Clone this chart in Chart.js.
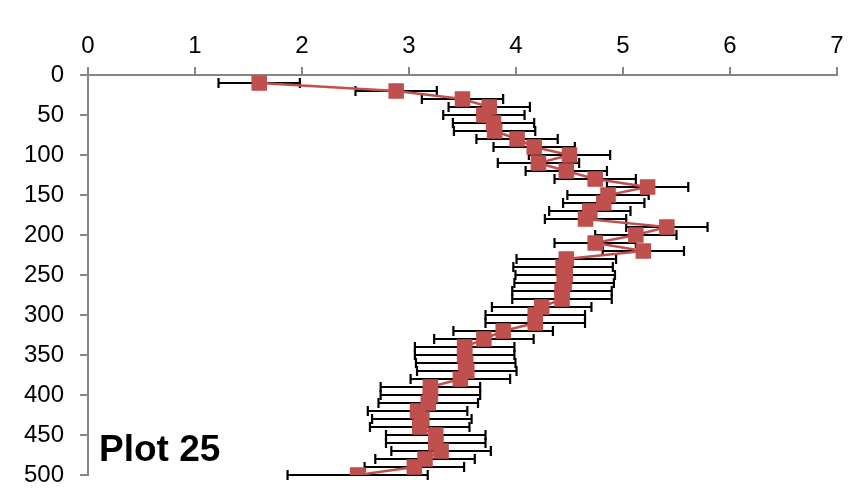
<!DOCTYPE html>
<html>
<head>
<meta charset="utf-8">
<script src="https://cdn.jsdelivr.net/npm/chart.js@4"></script>
<style>
  html, body { margin: 0; padding: 0; background: #ffffff; overflow: hidden; }
  #wrap { width: 852px; height: 488px; position: relative; }
  #plotChart { display: block; }
</style>
</head>
<body>
<div id="wrap"><canvas id="plotChart" width="852" height="488"></canvas></div>
<script>
// depth (y) and measured value (x) for each sample
const depths = [10, 20, 30, 40, 50, 60, 70, 80, 90, 100,
  110, 120, 130, 140, 150, 160, 170, 180, 190, 200,
  210, 220, 230, 240, 250, 260, 270, 280, 290, 300,
  310, 320, 330, 340, 350, 360, 370, 380, 390, 400,
  410, 420, 430, 440, 450, 460, 470, 480, 490, 500];
const values = [1.60, 2.88, 3.50, 3.75, 3.70, 3.79, 3.80, 4.01, 4.17, 4.50,
  4.21, 4.47, 4.74, 5.23, 4.86, 4.82, 4.69, 4.65, 5.41, 5.12,
  4.74, 5.19, 4.47, 4.44, 4.46, 4.45, 4.43, 4.43, 4.24, 4.18,
  4.18, 3.88, 3.70, 3.52, 3.52, 3.53, 3.54, 3.48, 3.20, 3.20,
  3.18, 3.08, 3.12, 3.10, 3.25, 3.25, 3.30, 3.15, 3.05, 2.52];
// horizontal error (+/-) for each sample
const errors = [0.38, 0.38, 0.38, 0.38, 0.38, 0.38, 0.38, 0.38, 0.38, 0.38,
  0.38, 0.38, 0.38, 0.38, 0.38, 0.38, 0.38, 0.38, 0.38, 0.38,
  0.38, 0.38, 0.465, 0.465, 0.465, 0.465, 0.465, 0.465, 0.465, 0.465,
  0.465, 0.465, 0.465, 0.465, 0.465, 0.465, 0.465, 0.465, 0.465, 0.465,
  0.465, 0.465, 0.465, 0.465, 0.465, 0.465, 0.465, 0.465, 0.465, 0.655];
const xTicks = [0, 1, 2, 3, 4, 5, 6, 7];
const yTicks = [0, 50, 100, 150, 200, 250, 300, 350, 400, 450, 500];
const plotLabel = 'Plot 25';

const axisColor = '#868686';
const seriesColor = '#C0504D';

const errorBars = {
  id: 'errorBars',
  beforeDatasetsDraw(chart) {
    const { ctx, scales: { x, y } } = chart;
    ctx.save();
    ctx.strokeStyle = '#000000';
    ctx.lineWidth = 2.2;
    depths.forEach((d, i) => {
      const py = y.getPixelForValue(d);
      const x0 = x.getPixelForValue(values[i] - errors[i]);
      const x1 = x.getPixelForValue(values[i] + errors[i]);
      ctx.beginPath();
      ctx.moveTo(x0, py); ctx.lineTo(x1, py);
      ctx.moveTo(x0, py - 5); ctx.lineTo(x0, py + 5);
      ctx.moveTo(x1, py - 5); ctx.lineTo(x1, py + 5);
      ctx.stroke();
    });
    ctx.restore();
  },
  afterDraw(chart) {
    const { ctx } = chart;
    ctx.save();
    ctx.fillStyle = '#000000';
    ctx.font = 'bold 37px "Liberation Sans", Arial, sans-serif';
    ctx.textBaseline = 'alphabetic';
    ctx.fillText(plotLabel, 99, 461);
    ctx.restore();
  }
};

new Chart(document.getElementById('plotChart').getContext('2d'), {
  type: 'scatter',
  data: {
    datasets: [{
      data: depths.map((d, i) => ({ x: values[i], y: d })),
      showLine: true,
      borderColor: seriesColor,
      borderWidth: 2.5,
      backgroundColor: seriesColor,
      pointStyle: 'rect',
      pointRadius: 11,
      pointBorderWidth: 0,
      pointHoverRadius: 11
    }]
  },
  options: {
    responsive: false,
    animation: false,
    layout: { autoPadding: false, padding: { left: 0, top: 0, right: 15, bottom: 13 } },
    plugins: { legend: { display: false }, tooltip: { enabled: false } },
    scales: {
      x: {
        type: 'linear',
        position: 'top',
        min: 0, max: 7,
        afterBuildTicks(scale) { scale.ticks = xTicks.map(v => ({ value: v })); },
        afterFit(scale) { scale.height = 75; },
        ticks: { color: '#000000', padding: 6, font: { size: 24, family: '"Liberation Sans", Arial, sans-serif' } },
        grid: { display: true, drawOnChartArea: false, drawTicks: true, tickLength: 8, color: axisColor, lineWidth: 2 },
        border: { display: true, color: axisColor, width: 2 }
      },
      y: {
        type: 'linear',
        reverse: true,
        min: 0, max: 500,
        afterBuildTicks(scale) { scale.ticks = yTicks.map(v => ({ value: v })); },
        afterFit(scale) {
          scale.width = 88;
          scale.paddingTop = 0;
          scale.paddingBottom = 0;
        },
        ticks: { color: '#000000', padding: 16, font: { size: 24, family: '"Liberation Sans", Arial, sans-serif' } },
        grid: { display: true, drawOnChartArea: false, drawTicks: true, tickLength: 8, color: axisColor, lineWidth: 2 },
        border: { display: true, color: axisColor, width: 2 }
      }
    }
  },
  plugins: [errorBars]
});
</script>
</body>
</html>
